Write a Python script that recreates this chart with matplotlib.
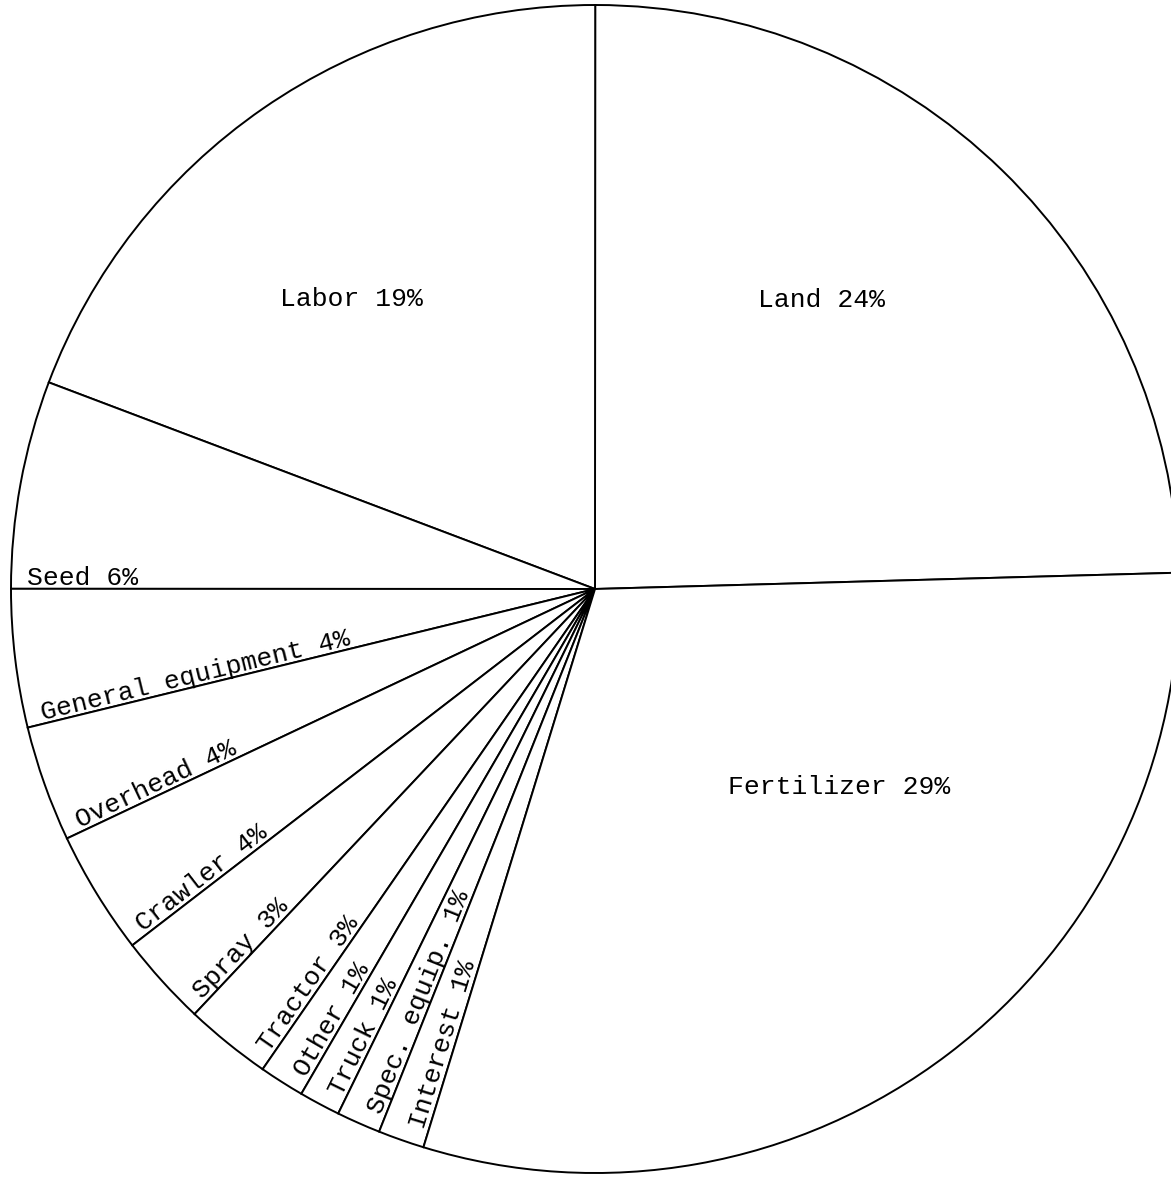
import matplotlib
matplotlib.use("Agg")
import matplotlib.pyplot as plt
import numpy as np

# ---- data ----
categories = ["Land", "Labor", "Seed", "General equipment", "Overhead", "Crawler",
              "Spray", "Tractor", "Other", "Truck", "Spec. equip.", "Interest",
              "Fertilizer"]
# share of the circle actually drawn for each slice (percent)
shares = [24.55, 19.25, 5.75, 3.82, 3.21, 3.42, 2.53, 2.39, 1.25, 1.14, 1.22, 1.28, 30.19]
# percentages as typed on the chart
label_pct = [24, 19, 6, 4, 4, 4, 3, 3, 1, 1, 1, 1, 29]

plt.rcParams["font.family"] = ["Liberation Mono", "DejaVu Sans Mono"]

W, H = 1171, 1178
fig = plt.figure(figsize=(W / 100, H / 100), dpi=100)
ax = fig.add_axes([0, 0, 1, 1])

CX, CY = 595, 589   # hub position in pixels (from top-left)
R = 584

wedges, _ = ax.pie(shares, radius=R, center=(0, 0), startangle=1.6,
                   counterclock=True,
                   wedgeprops=dict(facecolor="white", edgecolor="black",
                                   linewidth=1.4))
ax.set_xlim(-CX, W - CX)
ax.set_ylim(-(H - CY), CY)
ax.set_aspect("auto")
ax.axis("off")

FS = 19
labels = [f"{c} {p}%" for c, p in zip(categories, label_pct)]

# big slices: horizontal labels inside
center_pos = {0: (822, 300), 1: (351, 299), 12: (839, 787)}
for i, (px, py) in center_pos.items():
    ax.text(px - CX, CY - py, labels[i], fontsize=FS, ha="center", va="center",
            color="black")

# small slices: labels along the slice's clockwise edge, starting near the rim
for i in range(2, 12):
    a = wedges[i].theta2
    rot = a - 180
    ar = np.deg2rad(a)
    rr = np.deg2rad(rot)
    base = 0.972 * R
    x = base * np.cos(ar) - 4 * np.sin(rr)
    y = base * np.sin(ar) + 4 * np.cos(rr)
    ax.text(x, y, labels[i], fontsize=FS, rotation=rot, rotation_mode="anchor",
            ha="left", va="baseline", color="black")

fig.savefig("out.png", dpi=100, facecolor="white")
